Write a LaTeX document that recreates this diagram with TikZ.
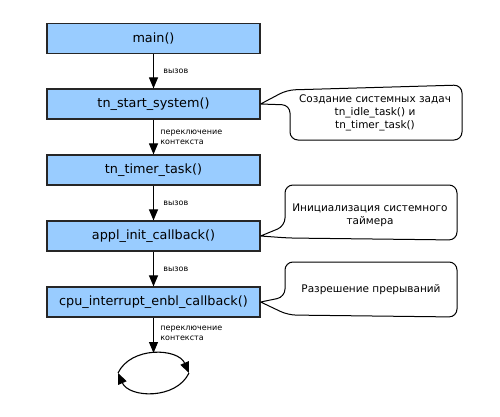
\documentclass[tikz,border=0pt]{standalone}
\usepackage{fontspec}
\setmainfont{DejaVu Sans}
\usetikzlibrary{arrows.meta}
\definecolor{boxblue}{HTML}{99CCFF}

\begin{document}
\begin{tikzpicture}[x=1pt,y=-1pt,
	box/.style={draw=black!85,line width=1.2pt,fill=boxblue,minimum width=213pt,minimum height=30pt,inner sep=0pt,font=\fontsize{12.8}{15}\selectfont},
	arr/.style={line width=1.1pt,-{Triangle[length=11pt,width=9pt]}},
	lbl/.style={font=\fontsize{8}{10}\selectfont,align=left},
	note/.style={draw,line width=1pt,rounded corners=8pt},
	notetext/.style={font=\fontsize{10.5}{13}\selectfont,align=center}]
	\useasboundingbox (0,0) rectangle (500,417);

	\node[box] (main) at (153.5,38.5) {main()};
	\node[box] (start) at (153.5,104) {tn\_start\_system()};
	\node[box] (timer) at (153.5,170) {tn\_timer\_task()};
	\node[box] (appl) at (153.5,236) {appl\_init\_callback()};
	\node[box] (cpu) at (153.5,302) {cpu\_interrupt\_enbl\_callback()};

	\coordinate (top) at (153.5,353);
	\coordinate (lpL) at (118,373);
	\coordinate (lpR) at (189,373);

\draw[arr] (main) -- (start) node[pos=0.5,right,lbl,xshift=6pt]{вызов};
\draw[arr] (start) -- (timer) node[pos=0.5,right,lbl,xshift=3pt]{переключение\\контекста};
\draw[arr] (timer) -- (appl) node[pos=0.5,right,lbl,xshift=6pt]{вызов};
\draw[arr] (appl) -- (cpu) node[pos=0.5,right,lbl,xshift=6pt]{вызов};
\draw[arr] (cpu) -- (top) node[pos=0.45,right,lbl,xshift=3pt]{переключение\\контекста};

\draw[arr] (lpL) .. controls (131,346) and (178,348) .. (lpR);
\draw[arr] (lpR) .. controls (176,400) and (129,398) .. (lpL);

	\node[notetext] (note1) at (375,113) {Создание системных задач\\tn\_idle\_task() и\\tn\_timer\_task()};
	\node[notetext] (note2) at (370,215.5) {Инициализация системного\\таймера};
	\node[notetext] (note3) at (371,290) {Разрешение прерываний};

\draw[note] (start.east) -- (290,105) -- (290,140) -- (462,140) -- (462,85) -- (287,90) -- (start.east);
\draw[note] (appl.east) -- (285,226) -- (285,185) -- (457,185) -- (457,240) -- (288,238) -- (appl.east);
\draw[note] (cpu.east) -- (285,297) -- (285,262) -- (457,262) -- (457,317) -- (288,315) -- (cpu.east);
\end{tikzpicture}
\end{document}
